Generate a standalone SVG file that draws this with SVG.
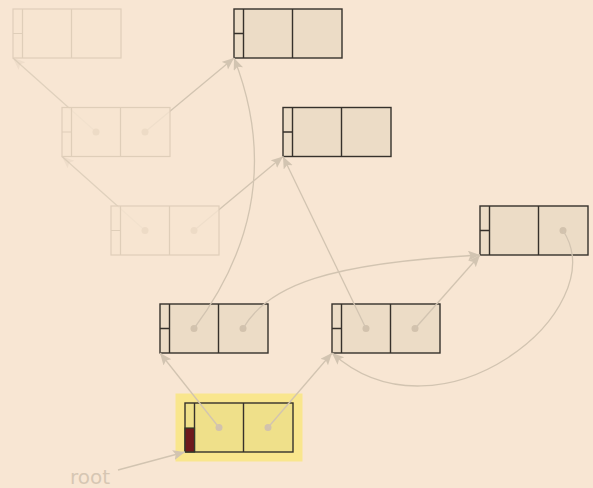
<svg xmlns="http://www.w3.org/2000/svg" width="593" height="488" viewBox="0 0 593 488">
<defs>
<marker id="ah" markerUnits="userSpaceOnUse" markerWidth="14" markerHeight="12" refX="12" refY="5" orient="auto">
<path d="M0,0 L12,5 L0,10 L2.5,5 z" fill="#d2c4b1"/>
</marker>
<marker id="ahf" markerUnits="userSpaceOnUse" markerWidth="14" markerHeight="12" refX="12" refY="5" orient="auto">
<path d="M0,0 L12,5 L0,10 L2.5,5 z" fill="#d2c4b1" fill-opacity="0.25"/>
</marker>
<style>
.cell{fill:#ecdcc6;stroke:#36312b;stroke-width:1.4}
.ln{stroke:#36312b;stroke-width:1.4;fill:none}
.fcell{fill:#f6e5d1;fill-opacity:0.8;stroke:#dfceb9;stroke-width:1.2}
.fln{stroke:#dfceb9;stroke-width:1.2;fill:none}
.dot{fill:#d2c2ad}
.fdot{fill:#eddbc6}
.e{fill:none;stroke:#d2c4b1;stroke-width:1.3;marker-end:url(#ah)}
.ef{fill:none;stroke:#d2c4b1;stroke-opacity:0.65;stroke-width:1.3;marker-end:url(#ahf)}
.rc{fill:#efe08a;stroke:#36312b;stroke-width:1.4}
</style>
</defs>
<rect width="593" height="488" fill="#f8e6d3"/>

<g id="node-D">
<rect class="cell" x="234" y="9" width="108" height="49"/>
<path class="ln" d="M243.5,9 V58 M292.5,9 V58 M234,33.5 H243.5"/>
</g>
<g id="node-E">
<rect class="cell" x="283" y="107.5" width="108" height="49"/>
<path class="ln" d="M292.5,107.5 V156.5 M341.5,107.5 V156.5 M283,132 H292.5"/>
</g>
<g id="node-F">
<rect class="cell" x="480" y="206" width="108" height="49"/>
<path class="ln" d="M489.5,206 V255 M538.5,206 V255 M480,230.5 H489.5"/>
<circle class="dot" cx="563" cy="230.5" r="3.5"/>
</g>
<g id="node-G">
<rect class="cell" x="160" y="304" width="108" height="49"/>
<path class="ln" d="M169.5,304 V353 M218.5,304 V353 M160,328.5 H169.5"/>
<circle class="dot" cx="194" cy="328.5" r="3.5"/>
<circle class="dot" cx="243" cy="328.5" r="3.5"/>
</g>
<g id="node-H">
<rect class="cell" x="332" y="304" width="108" height="49"/>
<path class="ln" d="M341.5,304 V353 M390.5,304 V353 M332,328.5 H341.5"/>
<circle class="dot" cx="366" cy="328.5" r="3.5"/>
<circle class="dot" cx="415" cy="328.5" r="3.5"/>
</g>
<g id="node-root">
<rect x="175.5" y="393.5" width="127" height="68" fill="#f9e68d"/>
<rect class="rc" x="185" y="403" width="108" height="49"/>
<path class="ln" d="M194.5,403 V452 M243.5,403 V452"/>
<rect x="185" y="428" width="9.5" height="24" fill="#6e1a1d" stroke="#2f3a2a" stroke-width="1.2"/>
<circle class="dot" cx="219" cy="427.5" r="3.5"/>
<circle class="dot" cx="268" cy="427.5" r="3.5"/>
</g>

<g id="connectors">
<path class="e" d="M219,427.5 L160,353"/>
<path class="e" d="M268,427.5 L332,353"/>
<path class="e" d="M366,328.5 L283,156.5"/>
<path class="e" d="M415,328.5 L480,255"/>
<path class="e" d="M194,328.5 C260,240 270,150 234,58"/>
<path class="e" d="M243,328.5 C268,285 330,263 480,255"/>
<path class="e" d="M563,230.5 C615,310 440,450 332,353"/>
<path class="e" d="M145,132 L234,58"/>
<path class="e" d="M194,230.5 L283,156.5"/>
<path class="ef" d="M96,132 L13,58"/>
<path class="ef" d="M145,230.5 L62,156.5"/>
<path class="e" d="M118,470 L185,452"/>
</g>

<g id="node-A">
<rect class="fcell" x="13" y="9" width="108" height="49"/>
<path class="fln" d="M22.5,9 V58 M71.5,9 V58 M13,33.5 H22.5"/>
</g>
<g id="node-B">
<rect class="fcell" x="62" y="107.5" width="108" height="49"/>
<path class="fln" d="M71.5,107.5 V156.5 M120.5,107.5 V156.5 M62,132 H71.5"/>
<circle class="fdot" cx="96" cy="132" r="3.5"/>
<circle class="fdot" cx="145" cy="132" r="3.5"/>
</g>
<g id="node-C">
<rect class="fcell" x="111" y="206" width="108" height="49"/>
<path class="fln" d="M120.5,206 V255 M169.5,206 V255 M111,230.5 H120.5"/>
<circle class="fdot" cx="145" cy="230.5" r="3.5"/>
<circle class="fdot" cx="194" cy="230.5" r="3.5"/>
</g>

<text x="70" y="484" font-family="DejaVu Sans, sans-serif" font-size="20" fill="#d6c6b3">root</text>
</svg>
